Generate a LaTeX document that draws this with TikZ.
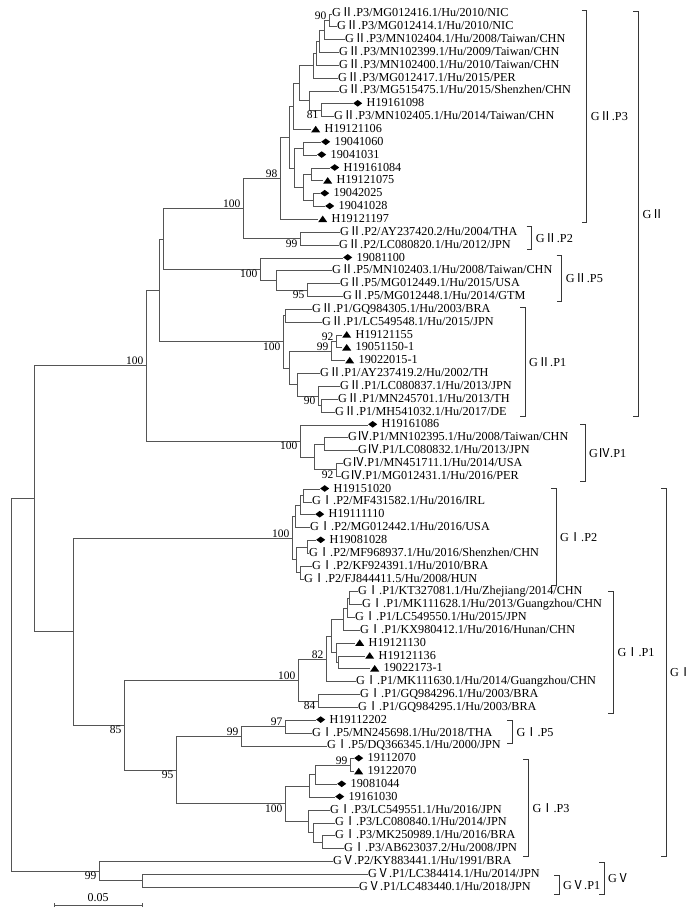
\documentclass[tikz,border=0pt]{standalone}
\usepackage{fontspec}
\setmainfont{Liberation Serif}
\newfontfamily\rnfont{Noto Sans CJK SC}
\usepackage{tikz}
\usetikzlibrary{positioning}
\definecolor{treeGray}{RGB}{85,85,85}
\definecolor{barGray}{RGB}{55,55,55}
\newcommand{\GI}{G{\rnfont Ⅰ}}
\newcommand{\GII}{G{\rnfont Ⅱ}}
\newcommand{\GIV}{G{\rnfont Ⅳ}}
\newcommand{\GV}{G{\rnfont Ⅴ}}
\newcommand{\dmark}{\tikz[x=1pt,y=1pt,baseline=-3.6pt]\fill (0,0)--(4.5,3.3)--(9,0)--(4.5,-3.3)--cycle;\hspace{4.5pt}}
\newcommand{\tmark}{\tikz[x=1pt,y=1pt,baseline=-0.3pt]\fill (0,0)--(9,0)--(4.5,6.5)--cycle;\hspace{4.5pt}}
\tikzset{
    branch/.style={draw=treeGray, line width=0.8pt},
    leaf/.style={anchor=west, inner sep=0pt, font=\fontsize{12.2}{13}\selectfont,
                 text height=8.5pt, text depth=2.5pt},
    boot/.style={font=\fontsize{11.5}{12}\selectfont, inner sep=0.5pt},
    bootUp/.style={boot, anchor=south east, xshift=-2pt},
    bootDown/.style={boot, anchor=north east, xshift=-2pt},
    clade/.style={anchor=west, font=\fontsize{12.2}{13}\selectfont, inner sep=0pt},
    cladebar/.style={draw=barGray, line width=0.8pt},
    scalebar/.style={draw=treeGray, line width=0.8pt}
}

\begin{document}
\begin{tikzpicture}[x=1pt, y=-1pt]
  \fill[white] (0,0) rectangle (694,912);
  \useasboundingbox (0,0) rectangle (694,912);

  % GII.P3
  \node[leaf] (l1) at (332,14.0) {\GII.P3/MG012416.1/Hu/2010/NIC};
  \node[leaf] (l2) at (337,26.8) {\GII.P3/MG012414.1/Hu/2010/NIC};
  \node[leaf] (l3) at (345,39.7) {\GII.P3/MN102404.1/Hu/2008/Taiwan/CHN};
  \node[leaf] (l4) at (339,52.5) {\GII.P3/MN102399.1/Hu/2009/Taiwan/CHN};
  \node[leaf] (l5) at (339,65.4) {\GII.P3/MN102400.1/Hu/2010/Taiwan/CHN};
  \node[leaf] (l6) at (338,78.2) {\GII.P3/MG012417.1/Hu/2015/PER};
  \node[leaf] (l7) at (339,91.0) {\GII.P3/MG515475.1/Hu/2015/Shenzhen/CHN};
  \node[leaf] (l8) at (353,103.9) {\dmark H19161098};
  \node[leaf] (l9) at (334,116.7) {\GII.P3/MN102405.1/Hu/2014/Taiwan/CHN};
  \node[leaf] (l10) at (311,129.6) {\tmark H19121106};
  \node[leaf] (l11) at (321,142.4) {\dmark 19041060};
  \node[leaf] (l12) at (317,155.2) {\dmark 19041031};
  \node[leaf] (l13) at (330,168.1) {\dmark H19161084};
  \node[leaf] (l14) at (323,180.9) {\tmark H19121075};
  \node[leaf] (l15) at (320,193.8) {\dmark 19042025};
  \node[leaf] (l16) at (325,206.6) {\dmark 19041028};
  \node[leaf] (l17) at (318,219.4) {\tmark H19121197};
  % GII.P2, GII.P5
  \node[leaf] (l18) at (340,232.3) {\GII.P2/AY237420.2/Hu/2004/THA};
  \node[leaf] (l19) at (339,245.1) {\GII.P2/LC080820.1/Hu/2012/JPN};
  \node[leaf] (l20) at (343,258.0) {\dmark 19081100};
  \node[leaf] (l21) at (332,270.8) {\GII.P5/MN102403.1/Hu/2008/Taiwan/CHN};
  \node[leaf] (l22) at (340,283.6) {\GII.P5/MG012449.1/Hu/2015/USA};
  \node[leaf] (l23) at (343,296.5) {\GII.P5/MG012448.1/Hu/2014/GTM};
  % GII.P1
  \node[leaf] (l24) at (312,309.3) {\GII.P1/GQ984305.1/Hu/2003/BRA};
  \node[leaf] (l25) at (322,322.2) {\GII.P1/LC549548.1/Hu/2015/JPN};
  \node[leaf] (l26) at (342,335.0) {\tmark H19121155};
  \node[leaf] (l27) at (342,347.8) {\tmark 19051150-1};
  \node[leaf] (l28) at (345,360.7) {\tmark 19022015-1};
  \node[leaf] (l29) at (320,373.5) {\GII.P1/AY237419.2/Hu/2002/TH};
  \node[leaf] (l30) at (340,386.4) {\GII.P1/LC080837.1/Hu/2013/JPN};
  \node[leaf] (l31) at (338,399.2) {\GII.P1/MN245701.1/Hu/2013/TH};
  \node[leaf] (l32) at (335,412.0) {\GII.P1/MH541032.1/Hu/2017/DE};
  % GIV.P1
  \node[leaf] (l33) at (368,424.9) {\dmark H19161086};
  \node[leaf] (l34) at (348,437.7) {\GIV.P1/MN102395.1/Hu/2008/Taiwan/CHN};
  \node[leaf] (l35) at (358,450.6) {\GIV.P1/LC080832.1/Hu/2013/JPN};
  \node[leaf] (l36) at (343,463.4) {\GIV.P1/MN451711.1/Hu/2014/USA};
  \node[leaf] (l37) at (341,476.2) {\GIV.P1/MG012431.1/Hu/2016/PER};
  % GI.P2
  \node[leaf] (l38) at (320,489.1) {\dmark H19151020};
  \node[leaf] (l39) at (312,501.9) {\GI.P2/MF431582.1/Hu/2016/IRL};
  \node[leaf] (l40) at (315,514.8) {\dmark H19111110};
  \node[leaf] (l41) at (310,527.6) {\GI.P2/MG012442.1/Hu/2016/USA};
  \node[leaf] (l42) at (316,540.4) {\dmark H19081028};
  \node[leaf] (l43) at (309,553.3) {\GI.P2/MF968937.1/Hu/2016/Shenzhen/CHN};
  \node[leaf] (l44) at (312,566.1) {\GI.P2/KF924391.1/Hu/2010/BRA};
  \node[leaf] (l45) at (304,579.0) {\GI.P2/FJ844411.5/Hu/2008/HUN};
  % GI.P1
  \node[leaf] (l46) at (358,591.8) {\GI.P1/KT327081.1/Hu/Zhejiang/2014/CHN};
  \node[leaf] (l47) at (362,604.6) {\GI.P1/MK111628.1/Hu/2013/Guangzhou/CHN};
  \node[leaf] (l48) at (355,617.5) {\GI.P1/LC549550.1/Hu/2015/JPN};
  \node[leaf] (l49) at (360,630.3) {\GI.P1/KX980412.1/Hu/2016/Hunan/CHN};
  \node[leaf] (l50) at (355,643.2) {\tmark H19121130};
  \node[leaf] (l51) at (365,656.0) {\tmark H19121136};
  \node[leaf] (l52) at (370,668.8) {\tmark 19022173-1};
  \node[leaf] (l53) at (356,681.7) {\GI.P1/MK111630.1/Hu/2014/Guangzhou/CHN};
  \node[leaf] (l54) at (360,694.5) {\GI.P1/GQ984296.1/Hu/2003/BRA};
  \node[leaf] (l55) at (358,707.4) {\GI.P1/GQ984295.1/Hu/2003/BRA};
  % GI.P5, GI.P3
  \node[leaf] (l56) at (316,720.2) {\dmark H19112202};
  \node[leaf] (l57) at (312,733.0) {\GI.P5/MN245698.1/Hu/2018/THA};
  \node[leaf] (l58) at (327,745.9) {\GI.P5/DQ366345.1/Hu/2000/JPN};
  \node[leaf] (l59) at (354,758.7) {\dmark 19112070};
  \node[leaf] (l60) at (354,771.6) {\tmark 19122070};
  \node[leaf] (l61) at (337,784.4) {\dmark 19081044};
  \node[leaf] (l62) at (335,797.2) {\dmark 19161030};
  \node[leaf] (l63) at (330,810.1) {\GI.P3/LC549551.1/Hu/2016/JPN};
  \node[leaf] (l64) at (335,822.9) {\GI.P3/LC080840.1/Hu/2014/JPN};
  \node[leaf] (l65) at (335,835.8) {\GI.P3/MK250989.1/Hu/2016/BRA};
  \node[leaf] (l66) at (344,848.6) {\GI.P3/AB623037.2/Hu/2008/JPN};
  % GV
  \node[leaf] (l67) at (333,861.4) {\GV.P2/KY883441.1/Hu/1991/BRA};
  \node[leaf] (l68) at (368,874.3) {\GV.P1/LC384414.1/Hu/2014/JPN};
  \node[leaf] (l69) at (359,887.1) {\GV.P1/LC483440.1/Hu/2018/JPN};

  % Internal nodes
  \coordinate (n12) at (329,20.4);
  \coordinate (n13) at (324,30.1);
  \coordinate (n14) at (319,41.3);
  \coordinate (n15) at (316,53.4);
  \coordinate (n16) at (313,65.8);
  \coordinate (n89) at (321,110.3);
  \coordinate (n79) at (309,100.7);
  \coordinate (n19) at (299,83.2);
  \coordinate (n110) at (293,106.4);
  \coordinate (n1112) at (303,148.8);
  \coordinate (n1314) at (311,174.5);
  \coordinate (n1516) at (313,200.2);
  \coordinate (n1316) at (303,187.4);
  \coordinate (n1116) at (294,168.1);
  \coordinate (nP3a) at (289,137.3);
  \coordinate (nP3) at (280,178.4);
  \coordinate (nP2) at (300,238.7);
  \coordinate (nP3P2) at (243,208.5);
  \coordinate (n2223) at (307,290.1);
  \coordinate (n2123) at (276,280.5);
  \coordinate (nP5) at (260,269.2);
  \coordinate (nA) at (163,238.9);
  \coordinate (n2425) at (285,315.8);
  \coordinate (n2627) at (336,341.4);
  \coordinate (n2628) at (331,351.0);
  \coordinate (n3132) at (321,405.6);
  \coordinate (n3032) at (318,396.0);
  \coordinate (n2932) at (297,384.8);
  \coordinate (n2632) at (289,367.9);
  \coordinate (nP1) at (283,341.8);
  \coordinate (nGII) at (159,290.4);
  \coordinate (n3435) at (324,444.2);
  \coordinate (n3637) at (336,469.8);
  \coordinate (n3437) at (314,457.0);
  \coordinate (nGIV) at (300,441.0);
  \coordinate (nGIIGIV) at (146,365.7);
  \coordinate (n3839) at (303,495.5);
  \coordinate (n3840) at (300,505.2);
  \coordinate (n3841) at (295,516.4);
  \coordinate (n4243) at (307,546.9);
  \coordinate (n4445) at (300,572.6);
  \coordinate (n4245) at (296,559.7);
  \coordinate (nGIP2) at (292,538.0);
  \coordinate (n4647) at (349,598.2);
  \coordinate (n4648) at (347,607.9);
  \coordinate (n4649) at (343,619.1);
  \coordinate (n5152) at (338.5,662.4);
  \coordinate (n5052) at (336.5,652.8);
  \coordinate (n4652) at (331.5,636.0);
  \coordinate (n4653) at (326,658.9);
  \coordinate (n5455) at (318,701.0);
  \coordinate (nGIP1) at (298,679.9);
  \coordinate (n5657) at (285,726.6);
  \coordinate (nGIP5) at (241,736.3);
  \coordinate (n5960) at (350,765.2);
  \coordinate (n5961) at (315,774.8);
  \coordinate (n5962) at (309,786.0);
  \coordinate (n6566) at (322,842.2);
  \coordinate (n6466) at (313.5,832.6);
  \coordinate (n6366) at (308,821.4);
  \coordinate (nGIP3) at (285,803.7);
  \coordinate (nGIP53) at (176,770.0);
  \coordinate (nG153) at (124,724.9);
  \coordinate (nGI) at (73,631.5);
  \coordinate (nIn) at (34,498.8);
  \coordinate (n6869) at (142,880.7);
  \coordinate (nGV) at (99,871.1);
  \coordinate (root) at (11,685.0);

  % Branches
  \foreach \p/\c in {root/nIn, root/nGV, nIn/nGIIGIV, nIn/nGI,
      nGIIGIV/nGII, nGIIGIV/nGIV, nGII/nA, nGII/nP1, nA/nP3P2, nA/nP5,
      nP3P2/nP3, nP3P2/nP2, nP3/nP3a, nP3/l17, nP3a/n110, nP3a/n1116,
      n110/n19, n110/l10, n19/n16, n19/n79, n16/n15, n16/l6, n15/n14, n15/l5,
      n14/n13, n14/l4, n13/n12, n13/l3, n12/l1, n12/l2, n79/l7, n79/n89,
      n89/l8, n89/l9, n1116/n1112, n1116/n1316, n1112/l11, n1112/l12,
      n1316/n1314, n1316/n1516, n1314/l13, n1314/l14, n1516/l15, n1516/l16,
      nP2/l18, nP2/l19, nP5/l20, nP5/n2123, n2123/l21, n2123/n2223,
      n2223/l22, n2223/l23, nP1/n2425, nP1/n2632, n2425/l24, n2425/l25,
      n2632/n2628, n2632/n2932, n2628/n2627, n2628/l28, n2627/l26, n2627/l27,
      n2932/l29, n2932/n3032, n3032/l30, n3032/n3132, n3132/l31, n3132/l32,
      nGIV/l33, nGIV/n3437, n3437/n3435, n3437/n3637, n3435/l34, n3435/l35,
      n3637/l36, n3637/l37, nGI/nGIP2, nGI/nG153, nGIP2/n3841, nGIP2/n4245,
      n3841/n3840, n3841/l41, n3840/n3839, n3840/l40, n3839/l38, n3839/l39,
      n4245/n4243, n4245/n4445, n4243/l42, n4243/l43, n4445/l44, n4445/l45,
      nG153/nGIP1, nG153/nGIP53, nGIP1/n4653, nGIP1/n5455, n4653/n4652,
      n4653/l53, n4652/n4649, n4652/n5052, n4649/n4648, n4649/l49,
      n4648/n4647, n4648/l48, n4647/l46, n4647/l47, n5052/l50, n5052/n5152,
      n5152/l51, n5152/l52, n5455/l54, n5455/l55, nGIP53/nGIP5, nGIP53/nGIP3,
      nGIP5/n5657, nGIP5/l58, n5657/l56, n5657/l57, nGIP3/n5962, nGIP3/n6366,
      n5962/n5961, n5962/l62, n5961/n5960, n5961/l61, n5960/l59, n5960/l60,
      n6366/l63, n6366/n6466, n6466/l64, n6466/n6566, n6566/l65, n6566/l66,
      nGV/l67, nGV/n6869, n6869/l68, n6869/l69}
    \draw[branch] (\p) |- (\c);

  % Bootstrap values
  \foreach \n/\s/\v in {n12/bootUp/90, n89/bootDown/81, nP3/bootUp/98,
      nP3P2/bootUp/100, nP2/bootDown/99, nP5/bootDown/100, n2223/bootDown/95,
      nP1/bootDown/100, n2627/bootUp/92, n2628/bootUp/99, n3032/bootDown/90,
      nGIV/bootDown/100, n3637/bootDown/92, nGIIGIV/bootUp/100,
      nGIP2/bootUp/100, n4653/bootUp/82, nGIP1/bootUp/100, n5455/bootDown/84,
      n5657/bootUp/97, nGIP5/bootUp/99, n5960/bootUp/99, nGIP3/bootDown/100,
      nGIP53/bootDown/95, nG153/bootDown/85, nGV/bootDown/99}
    \node[\s] (b\n) at (\n) {\v};

  % Genotype brackets
  \foreach \bn/\bx/\bt/\bb/\bl in {cGIIPiii/586.7/10/222.7/{\GII.P3},
      cGIIPii/531.7/226.7/249/{\GII.P2}, cGIIPv/561.7/255.7/301/{\GII.P5},
      cGIIPi/525/307.3/416.7/{\GII.P1}, cGII/638.3/11/416.7/{\GII},
      cGIVPi/585/424.3/481.7/{\GIV.P1}, cGIPii/556/488.3/585/{\GI.P2},
      cGIPi/613.3/591.7/713.3/{\GI.P1}, cGIPv/512.3/720.7/743.3/{\GI.P5},
      cGIPiii/528.3/759.3/856/{\GI.P3}, cGI/666/488.3/856/{\GI},
      cGVPi/559/875/894.3/{\GV.P1}, cGV/604/862.3/894.3/{\GV}}
  {
    \draw[cladebar] ({\bx-5},\bt) -- (\bx,\bt) -- (\bx,\bb) -- ({\bx-5},\bb);
    \node[clade] (\bn) at ({\bx+4},{(\bt+\bb)/2}) {\bl};
  }

  % Scale bar
  \coordinate (sbL) at (54,905);
  \coordinate (sbR) at (142,905);
  \draw[scalebar] (sbL) -- node[above=3pt, font=\fontsize{12}{13}\selectfont, inner sep=0pt] (sbT) {0.05} (sbR);
  \draw[scalebar] ([yshift=-2pt]sbL) -- ([yshift=2pt]sbL);
  \draw[scalebar] ([yshift=-2pt]sbR) -- ([yshift=2pt]sbR);
\end{tikzpicture}
\end{document}
